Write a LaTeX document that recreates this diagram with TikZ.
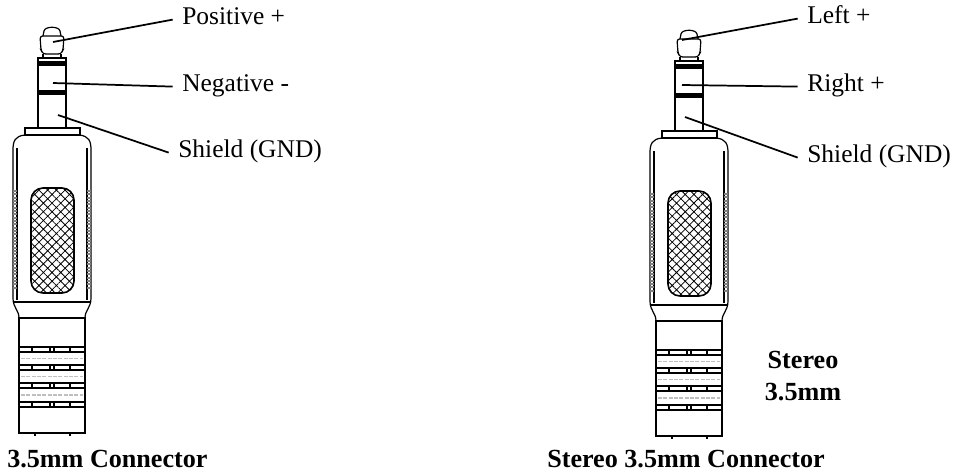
\documentclass[tikz,border=0pt]{standalone}
\usepackage{fontspec}
\setmainfont{Liberation Serif}
\usetikzlibrary{patterns.meta}
\tikzstyle{lbl} = [anchor=west, inner xsep=7pt, inner ysep=0pt,
    text height=0.66em, text depth=0pt, font=\fontsize{19.1}{23}\selectfont]
\tikzstyle{captxt} = [anchor=base west, inner sep=0pt,
    font=\fontsize{19.6}{24}\selectfont\bfseries]
\tikzstyle{lead} = [line width=1.3pt]
\tikzstyle{part} = [line width=0.9pt]
\tikzset{jack/.pic={
  % tip
  \draw[part] (-9,36) -- (-8,31) .. controls (-7,26) and (7,26) .. (8,31) -- (9,36);
  \draw[part,rounded corners=2] (-12,36) -- (12,36) -- (11,50) -- (9,54) -- (-9,54) -- (-11,50) -- cycle;
  \draw[part] (-9,54) -- (-9,58) (9,54) -- (9,58);
  % shaft and collar
  \draw[part] (-14,58) rectangle (14,128);
  \fill (-14,61) rectangle (14,66);
  \fill (-14,90) rectangle (14,95);
  \draw[part] (-27,128) rectangle (28,135);
  % body
  \draw[part] (-27,135) .. controls (-37,136) and (-39,141) .. (-39,150) -- (-39,298)
      .. controls (-39,308) and (-33,310) .. (-33,318) -- (33,318)
      .. controls (33,310) and (39,308) .. (39,298) -- (39,150)
      .. controls (39,141) and (37,136) .. (27,135);
  \draw[part] (-39,302) -- (39,302);
  \draw[part] (-35,148) -- (-35,300) (35,148) -- (35,300);
  \draw[gray, line width=2.5pt, dash pattern=on 1.5pt off 1pt] (-37,190) -- (-37,290) (37,190) -- (37,290);
  % grip
  \draw[line width=1.2pt, rounded corners=9,
        pattern={Hatch[angle=45,distance=4.6pt,line width=0.6pt]}] (-21,188) rectangle (22,293);
  % strain relief
  \draw[part] (-33,318) rectangle (33,433);
  \foreach \y in {347,365,383,402} {
    \draw[part] (-33,\y) -- (33,\y) (-33,\y+5) -- (33,\y+5);
    \draw[part] (-20,\y) -- (-20,\y+5) (-2,\y) -- (-2,\y+5) (2,\y) -- (2,\y+5) (18,\y) -- (18,\y+5);
  }
  \draw[gray!50, line width=1.2pt, dash pattern=on 3pt off 1pt]
      (-31,358.5) -- (31,358.5) (-31,376.5) -- (31,376.5) (-31,395) -- (31,395);
  \draw[part] (-17,433) -- (-17,436) (18,433) -- (18,436);
}}
\begin{document}
\begin{tikzpicture}[x=0.75pt,y=-0.75pt]
  \useasboundingbox (0,0) rectangle (958,472);

  \pic (jackL) at (52,0) {jack};
  \pic (jackR) at (689,3) {jack};

  % mono plug
  \coordinate (tipL)    at (53,42);
  \coordinate (ringL)   at (53,83);
  \coordinate (sleeveL) at (58,115);
  \node[lbl] (pos)  at (172.7,19.6)  {Positive +};
  \node[lbl] (neg)  at (172.7,86.6)  {Negative -};
  \node[lbl] (gndL) at (168.7,152.6) {Shield (GND)};
  \draw[lead] (tipL) -- (pos.west);
  \draw[lead] (ringL) -- (neg.west);
  \draw[lead] (sleeveL) -- (gndL.west);

  % stereo plug
  \coordinate (tipR)    at (682,40);
  \coordinate (ringR)   at (682,85);
  \coordinate (sleeveR) at (685,117);
  \node[lbl] (left)  at (797.7,18.6)  {Left +};
  \node[lbl] (right) at (797.7,86.6)  {Right +};
  \node[lbl] (gndR)  at (797.7,157.6) {Shield (GND)};
  \draw[lead] (tipR) -- (left.west);
  \draw[lead] (ringR) -- (right.west);
  \draw[lead] (sleeveR) -- (gndR.west);

  % captions
  \node[captxt] (monoCap)   at (7,467.5)   {3.5mm Connector};
  \node[captxt] (stereoCap) at (547,467) {Stereo 3.5mm Connector};
  \node[captxt, anchor=base] (tag1) at (803,368) {Stereo};
  \node[captxt, anchor=base] (tag2) at (803,400) {3.5mm};
\end{tikzpicture}
\end{document}
